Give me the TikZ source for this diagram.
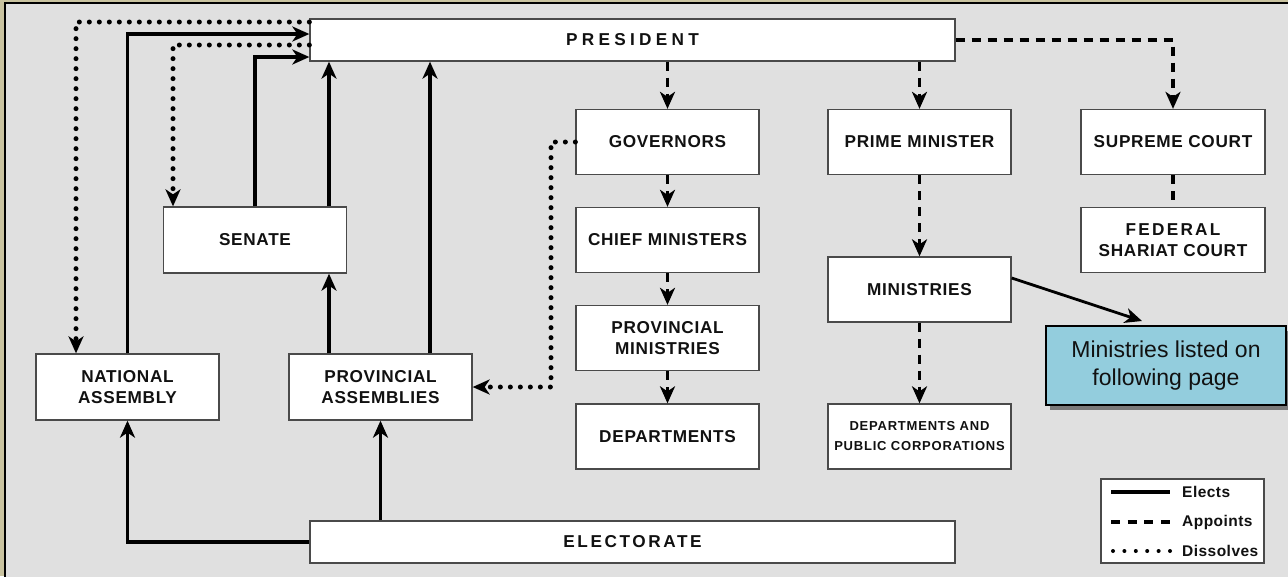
\documentclass[tikz,border=0pt]{standalone}
\usepackage{fontspec}
\setmainfont{Liberation Sans}
\newfontfamily\bxA[LetterSpace=4]{Liberation Sans}
\newfontfamily\bxP[LetterSpace=25]{Liberation Sans}
\newfontfamily\bxE[LetterSpace=15]{Liberation Sans}
\newfontfamily\bxF[LetterSpace=13]{Liberation Sans}
\newfontfamily\bxS[LetterSpace=6]{Liberation Sans}
\newfontfamily\bxL[LetterSpace=3]{Liberation Sans}
\usetikzlibrary{arrows.meta,shadows}
\definecolor{bgc}{HTML}{E0E0E0}
\definecolor{tanc}{HTML}{C9C3A0}
\definecolor{boxline}{HTML}{4A4A4A}
\definecolor{calloutc}{HTML}{93CDDD}
\definecolor{ink}{HTML}{111111}
\begin{document}
\begin{tikzpicture}[x=1pt,y=-1pt,
  >={Stealth[length=17pt,width=15pt,inset=5pt]},
  box/.style={draw=boxline, line width=1.3pt, fill=white, minimum width=183pt,
    minimum height=65pt, inner sep=0pt, align=center, text=ink,
    font={\bxA\bfseries\fontsize{17.2pt}{21pt}\selectfont}},
  widebox/.style={box, minimum width=645pt, minimum height=42pt},
  elect/.style={line width=3.3pt, draw=black},
  appt/.style={line width=3.8pt, draw=black, dash pattern=on 9pt off 7pt},
  diss/.style={line width=5pt, draw=black, line cap=round, dash pattern=on 0pt off 10pt},
  legtext/.style={anchor=west, inner sep=0pt, text=ink, font={\bxL\bfseries\fontsize{15.5pt}{17pt}\selectfont}}
]
\useasboundingbox (0,0) rectangle (1288,576);
% frame
\fill[tanc] (0,0) rectangle (1288,576);
\fill[bgc] (5,3) rectangle (1300,590);
\draw[black, line width=2pt] (5,590) -- (5,3) -- (1300,3);

% nodes
\node[widebox, font={\bxP\bfseries\fontsize{17.2pt}{21pt}\selectfont}] (pres) at (632.5,40) {PRESIDENT};
\node[box] (gov) at (667.5,142) {GOVERNORS};
\node[box] (cm) at (667.5,240) {CHIEF MINISTERS};
\node[box] (pmin) at (667.5,338) {PROVINCIAL\\MINISTRIES};
\node[box] (dep) at (667.5,436.5) {DEPARTMENTS};
\node[box] (pm) at (919.5,142) {PRIME MINISTER};
\node[box] (min) at (919.5,289.5) {MINISTRIES};
\node[box, font={\bxS\bfseries\fontsize{13pt}{20pt}\selectfont}] (dpc) at (919.5,436.5) {DEPARTMENTS AND\\PUBLIC CORPORATIONS};
\node[box, minimum width=184pt] (sc) at (1173,142) {SUPREME COURT};
\node[box, minimum width=184pt] (fsc) at (1173,240) {{\bxF FEDERAL}\\SHARIAT COURT};
\node[box, minimum height=66pt] (sen) at (255,240) {SENATE};
\node[box, minimum height=66pt] (na) at (127.5,387) {NATIONAL\\ASSEMBLY};
\node[box, minimum height=66pt] (pa) at (380.5,387) {PROVINCIAL\\ASSEMBLIES};
\node[widebox, font={\bxE\bfseries\fontsize{17.2pt}{21pt}\selectfont}] (ele) at (632.5,542) {ELECTORATE};

% callout
\node[draw=black, line width=2pt, fill=calloutc, minimum width=240pt, minimum height=79pt,
  align=center, inner sep=0pt, text=ink, font={\fontsize{23pt}{28pt}\selectfont},
  drop shadow={shadow xshift=4pt, shadow yshift=-5pt, opacity=0.45, fill=black}]
  (call) at (1166,365.5) {Ministries listed on\\following page};
\coordinate (calltip) at (1142,321);
\draw[line width=2.8pt, ->] (min.east |- 0,278) -- (calltip);

% dissolves
\draw[diss, ->] (pres.west |- 0,22) -| (76,0 |- na.north);
\draw[diss, ->] (pres.west |- 0,45) -| (173,0 |- sen.north);
\draw[diss, ->] (gov.west) -- (551,0 |- gov.west) -- (551,0 |- pa.east) -- (pa.east);

% elects
\draw[elect, ->] (na.north) |- (pres.west |- 0,34);
\draw[elect, ->] (sen.north) |- (pres.west |- 0,57);
\draw[elect, ->] (329,0 |- sen.north) -- (329,0 |- pres.south);
\draw[elect, ->] (430,0 |- pa.north) -- (430,0 |- pres.south);
\draw[elect, ->] (329,0 |- pa.north) -- (329,0 |- sen.south);
\draw[elect, ->] (ele.west) -| (na.south);
\draw[elect, ->] (ele.north -| pa.south) -- (pa.south);

% appoints
\draw[appt, ->] (pres.south -| gov.north) -- (gov.north);
\draw[appt, ->] (gov.south) -- (cm.north);
\draw[appt, ->] (cm.south) -- (pmin.north);
\draw[appt, ->] (pmin.south) -- (dep.north);
\draw[appt, ->] (pres.south -| pm.north) -- (pm.north);
\draw[appt, ->] (pm.south) -- (min.north);
\draw[appt, ->] (min.south) -- (dpc.north);
\draw[appt, ->] (pres.east) -| (sc.north);
\draw[appt] (sc.south) -- (fsc.north);

% legend
\node[draw=boxline, line width=1.3pt, fill=white, minimum width=163pt, minimum height=84pt, inner sep=0pt] (leg) at (1182.5,521) {};
\coordinate (l1a) at (1111,492); \coordinate (l1b) at (1170,492);
\coordinate (l2a) at (1111,522); \coordinate (l2b) at (1170,522);
\coordinate (l3a) at (1113,551); \coordinate (l3b) at (1170,551);
\draw[elect] (l1a) -- (l1b);
\draw[appt, dash pattern=on 9pt off 7.7pt] (l2a) -- (l2b);
\draw[diss, line width=4pt, dash pattern=on 0pt off 11.4pt] (l3a) -- (l3b);
\node[legtext] (t1) at (1182,492) {Elects};
\node[legtext] (t2) at (1182,522) {Appoints};
\node[legtext] (t3) at (1182,551) {Dissolves};
\end{tikzpicture}
\end{document}
